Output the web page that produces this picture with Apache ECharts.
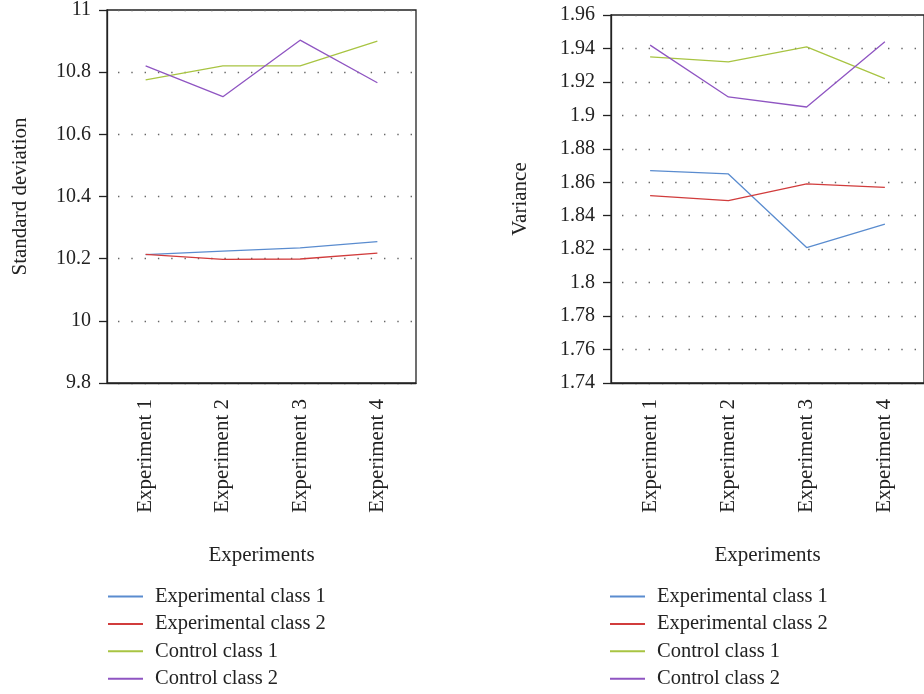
<!DOCTYPE html>
<html>
<head>
<meta charset="utf-8">
<script src="https://cdn.jsdelivr.net/npm/echarts@6/dist/echarts.min.js"></script>
<style>
html,body{margin:0;padding:0;background:#fff;}
#chart{width:924px;height:694px;}
</style>
</head>
<body>
<div id="chart"></div>
<script>
const categories = ['Experiment 1', 'Experiment 2', 'Experiment 3', 'Experiment 4'];
const seriesNames = ['Experimental class 1', 'Experimental class 2', 'Control class 1', 'Control class 2'];
const sdExp1 = [10.213, 10.224, 10.235, 10.255];
const sdExp2 = [10.214, 10.198, 10.199, 10.218];
const sdCtl1 = [10.775, 10.82, 10.82, 10.90];
const sdCtl2 = [10.82, 10.721, 10.903, 10.766];
const varExp1 = [1.867, 1.865, 1.821, 1.835];
const varExp2 = [1.852, 1.849, 1.859, 1.857];
const varCtl1 = [1.935, 1.932, 1.941, 1.922];
const varCtl2 = [1.942, 1.911, 1.905, 1.944];
const colors = ['#5a8ccf', '#d13c3c', '#a8c442', '#8f55c2'];

const FONT = 'Liberation Serif';
const TXT = '#222';
const AX = '#222';

function xAxis(gi) {
  return {
    type: 'category', gridIndex: gi, data: categories, boundaryGap: true,
    name: 'Experiments', nameLocation: 'middle', nameGap: 162,
    nameTextStyle: {fontFamily: FONT, fontSize: 21, color: TXT},
    axisLine: {lineStyle: {color: AX, width: 1.3}},
    axisTick: {alignWithLabel: true, length: 7, lineStyle: {color: '#555', width: 1.3}},
    axisLabel: {rotate: 90, margin: 16, fontFamily: FONT, fontSize: 21, color: TXT},
    splitLine: {show: false}
  };
}
function yAxis(gi, name, min, max, interval, gap) {
  return {
    type: 'value', gridIndex: gi, min: min, max: max, interval: interval,
    name: name, nameLocation: 'middle', nameRotate: 90, nameGap: gap,
    nameTextStyle: {fontFamily: FONT, fontSize: 21, color: TXT},
    axisLine: {show: true, lineStyle: {color: AX, width: 1.3}},
    axisTick: {show: true, length: 8, lineStyle: {color: AX, width: 1.3}},
    axisLabel: {margin: 16, fontFamily: FONT, fontSize: 20, color: TXT,
      formatter: v => String(+v.toFixed(3))},
    splitLine: {show: true, lineStyle: {color: '#666', width: 1.4, type: [1.4, 11.9], dashOffset: 2.3}}
  };
}
function mkSeries(data, i, gi) {
  return {
    type: 'line', name: seriesNames[i], data: data, xAxisIndex: gi, yAxisIndex: gi,
    symbol: 'none', showSymbol: false, lineStyle: {color: colors[i], width: 1.3}, itemStyle: {color: colors[i]},
    animation: false
  };
}
function legend(left) {
  return {
    orient: 'vertical', left: left, top: 586, padding: 0, itemWidth: 35, itemHeight: 2, itemGap: 6.4,
    icon: 'rect', data: seriesNames, height: 110,
    textStyle: {fontFamily: FONT, fontSize: 20.5, color: TXT, lineHeight: 20, padding: [0, 0, 0, 7]}
  };
}

const chart = echarts.init(document.getElementById('chart'), null, {renderer: 'canvas'});
chart.setOption({
  animation: false,
  backgroundColor: '#fff',
  grid: [
    {left: 107, top: 8, width: 309, height: 375, show: true, borderColor: AX, borderWidth: 1.3, containLabel: false},
    {left: 611, top: 15, width: 320, height: 368, show: true, borderColor: AX, borderWidth: 1.3, containLabel: false}
  ],
  legend: [legend(108), legend(610)],
  xAxis: [xAxis(0), xAxis(1)],
  yAxis: [
    yAxis(0, 'Standard deviation', 9.8, 11, 0.2, 76),
    yAxis(1, 'Variance', 1.74, 1.96, 0.02, 80)
  ],
  series: [
    mkSeries(sdExp1, 0, 0), mkSeries(sdExp2, 1, 0), mkSeries(sdCtl1, 2, 0), mkSeries(sdCtl2, 3, 0),
    mkSeries(varExp1, 0, 1), mkSeries(varExp2, 1, 1), mkSeries(varCtl1, 2, 1), mkSeries(varCtl2, 3, 1)
  ]
});
</script>
</body>
</html>
